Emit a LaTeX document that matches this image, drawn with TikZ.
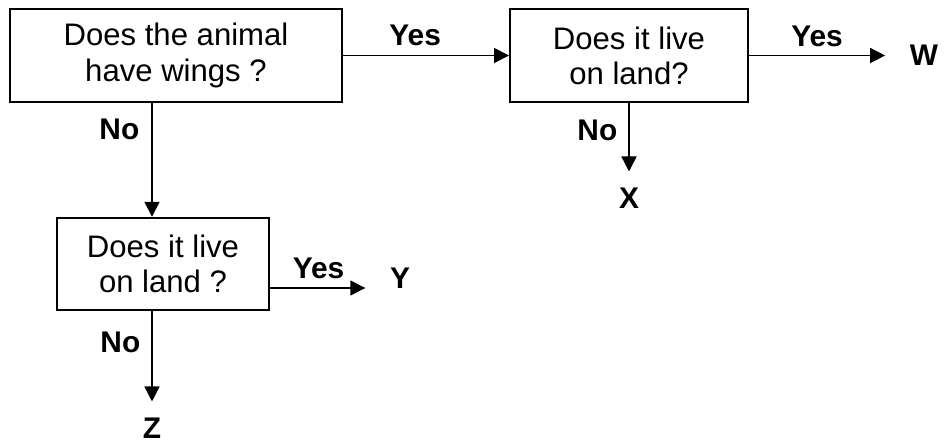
\documentclass[tikz,border=0pt]{standalone}
\usepackage{fontspec}
\setmainfont{Liberation Sans}
\usepackage{tikz}
\usetikzlibrary{arrows.meta, positioning}

\begin{document}
\begin{tikzpicture}[
		question/.style={rectangle, draw, line width=1.1pt, align=center, inner sep=0pt, minimum height=1.85cm, font=\fontsize{17.7}{20}\selectfont},
		reponse/.style={font=\fontsize{17}{17}\selectfont\bfseries, inner sep=0pt},
		feuille/.style={font=\fontsize{17}{17}\selectfont\bfseries, inner xsep=4.8mm, inner ysep=3.1mm},
		->,>={Triangle[length=3mm, width=3mm]}, line width=0.85pt % fleches pleines
		]
		\useasboundingbox (0,0) rectangle (18.9,8.86);
		
		% Les questions
		\node[question, minimum width=6.64cm] (ailes) at (3.52, 7.75) {Does the animal\\have wings ?};
		\node[question, minimum width=4.76cm] (terreA) at (12.58, 7.75) {Does it live\\on land?};
		\node[question, minimum width=4.24cm] (terreB) at (3.26, 3.58) {Does it live\\on land ?};
		
		% Les reponses
		\node[feuille] (W) at (18.48, 7.75) {W};
		\node[feuille] (X) at (12.58, 4.9) {X};
		\node[feuille] (Y) at (8.0, 3.3) {Y};
		\node[feuille, inner ysep=0.5mm] (Z) at (3.04, 0.3) {Z};
		
		% Les fleches
		\draw (ailes.east) to node[reponse, pos=0.435, above=1.7mm] {Yes} (terreA.west);
		\draw (ailes.south -| Z) to node[reponse, pos=0.23, left=2.4mm] {No} (terreB.north -| Z);
		\draw (terreA.east) to node[reponse, pos=0.5, above=1.6mm] {Yes} (terreA.east -| W.west);
		\draw (terreA.south) to node[reponse, pos=0.4, left=2.2mm] {No} (X.north);
		\draw ([yshift=-4.8mm]terreB.east) to node[reponse, pos=0.51, above=1.6mm] {Yes} ([yshift=-4.8mm]terreB.east -| Y.west);
		\draw[shorten >=2.6mm] (terreB.south -| Z) to node[reponse, pos=0.3, left=2.2mm] {No} (Z.north);
	\end{tikzpicture}
\end{document}
